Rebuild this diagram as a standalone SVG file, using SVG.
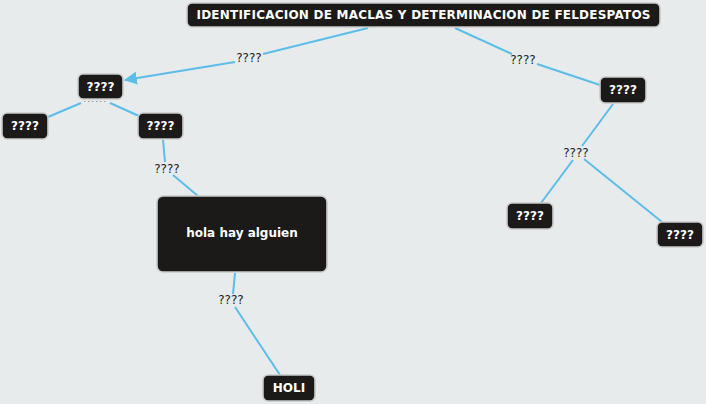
<svg xmlns="http://www.w3.org/2000/svg" width="706" height="404" viewBox="0 0 706 404">
<defs>
<style>
.n rect{fill:#1c1a19;stroke:#c9cacb;stroke-width:1.6}
.n text{fill:#fff;font-family:"DejaVu Sans",Verdana,sans-serif;font-weight:bold;font-size:12px;text-anchor:middle;dominant-baseline:central}
.c line{stroke:#5cbde9;stroke-width:2;fill:none}
.l{fill:#222;font-family:"DejaVu Sans",Verdana,sans-serif;font-size:12px;text-anchor:middle;dominant-baseline:central}
</style>
<marker id="ah" viewBox="0 0 12 12" refX="11" refY="6" markerWidth="13" markerHeight="13" markerUnits="userSpaceOnUse" orient="auto">
<path d="M0,0 L12,6 L0,12 z" fill="#5cbde9"/>
</marker>
</defs>
<rect width="706" height="404" fill="#e7ebec"/>
<g class="c">
<line x1="368" y1="28" x2="263" y2="54"/>
<line x1="235" y1="62" x2="125" y2="80" marker-end="url(#ah)"/>
<line x1="455" y1="28" x2="512" y2="54"/>
<line x1="537" y1="64" x2="600" y2="85"/>
<line x1="81" y1="103" x2="48" y2="117"/>
<line x1="110" y1="103" x2="139" y2="116"/>
<line x1="163" y1="140" x2="165" y2="162"/>
<line x1="173" y1="175" x2="198" y2="196"/>
<line x1="235" y1="273" x2="233" y2="294"/>
<line x1="235" y1="307" x2="280" y2="375"/>
<line x1="613" y1="104" x2="582" y2="146"/>
<line x1="573" y1="160" x2="541" y2="203"/>
<line x1="584" y1="159" x2="662" y2="222"/>
</g>
<path d="M84,101.5 H106" style="stroke:#9a9c9d;stroke-width:1;stroke-dasharray:1.5,2.5;fill:none"/>
<g class="l">
<text x="249" y="58">????</text>
<text x="523" y="60">????</text>
<text x="167" y="169">????</text>
<text x="231" y="300">????</text>
<text x="576" y="153">????</text>
</g>
<g id="root" class="n"><rect x="187" y="3" width="473" height="24" rx="5"/><text x="423.5" y="15" textLength="454" lengthAdjust="spacing">IDENTIFICACION DE MACLAS Y DETERMINACION DE FELDESPATOS</text></g>
<g id="a" class="n"><rect x="78" y="74" width="45" height="25" rx="5"/><text x="100.5" y="86.5">????</text></g>
<g id="b" class="n"><rect x="2" y="113" width="46" height="26" rx="5"/><text x="25" y="126">????</text></g>
<g id="c" class="n"><rect x="138" y="113" width="45" height="26" rx="5"/><text x="160.5" y="126">????</text></g>
<g id="hola" class="n"><rect x="157" y="196" width="170" height="76" rx="6"/><text x="242" y="233">hola hay alguien</text></g>
<g id="holi" class="n"><rect x="263" y="375" width="52" height="26" rx="5"/><text x="289" y="388">HOLI</text></g>
<g id="r" class="n"><rect x="600" y="77" width="46" height="26" rx="5"/><text x="623" y="90">????</text></g>
<g id="r1" class="n"><rect x="507" y="203" width="46" height="26" rx="5"/><text x="530" y="216">????</text></g>
<g id="r2" class="n"><rect x="657" y="222" width="46" height="25" rx="5"/><text x="680" y="234.5">????</text></g>
</svg>
